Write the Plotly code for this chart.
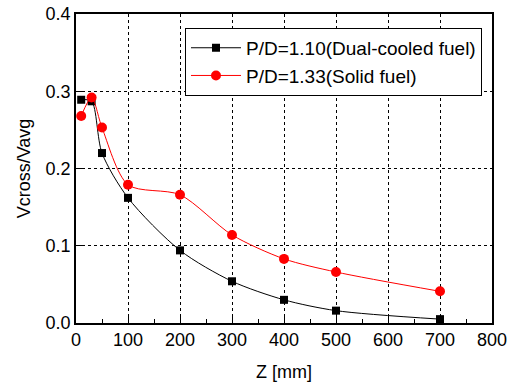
import plotly.graph_objects as go

z = [10, 30, 50, 100, 200, 300, 400, 500, 700]
dual_cooled = [0.289, 0.287, 0.220, 0.162, 0.094, 0.054, 0.030, 0.016, 0.005]
solid = [0.268, 0.292, 0.253, 0.179, 0.166, 0.114, 0.083, 0.066, 0.041]

names = ["P/D=1.10(Dual-cooled fuel)", "P/D=1.33(Solid fuel)"]

fig = go.Figure()
fig.add_trace(go.Scatter(
    x=z, y=dual_cooled, name=names[0], mode="lines+markers",
    line=dict(color="black", width=1, shape="spline", smoothing=0.8),
    marker=dict(symbol="square", size=8, color="black"),
))
fig.add_trace(go.Scatter(
    x=z, y=solid, name=names[1], mode="lines+markers",
    line=dict(color="red", width=1, shape="spline", smoothing=0.8),
    marker=dict(symbol="circle", size=10, color="red"),
))

font = "Liberation Sans, Arial, sans-serif"
axis_common = dict(
    showline=True, linecolor="black", linewidth=1.5, mirror=True,
    showgrid=True, gridcolor="black", griddash="dot", gridwidth=1,
    ticks="inside", ticklen=6, tickcolor="black",
    tickfont=dict(family=font, size=18, color="black"),
    zeroline=False, automargin=False,
)
fig.update_xaxes(
    range=[0, 800], dtick=100, tick0=0,
    title=dict(text="Z [mm]", font=dict(family=font, size=18, color="black"), standoff=16),
    minor=dict(dtick=50, ticks="inside", ticklen=4, tickcolor="black", showgrid=False),
    **axis_common,
)
fig.update_yaxes(
    range=[0, 0.4], dtick=0.1, tick0=0, tickformat=".1f",
    title=dict(text="Vcross/Vavg", font=dict(family=font, size=18, color="black"), standoff=10),
    **axis_common,
)
fig.update_layout(
    width=513, height=385,
    margin=dict(l=76, r=21, t=14, b=62),
    paper_bgcolor="white", plot_bgcolor="white",
    font=dict(family=font, color="black"),
    legend=dict(
        x=0.262, y=0.955, xanchor="left", yanchor="top",
        bgcolor="white", bordercolor="black", borderwidth=1,
        font=dict(family=font, size=19, color="black"),
        tracegroupgap=0, itemwidth=50,
    ),
    showlegend=True,
)
fig.write_html(
    "out.html",
    config={"displayModeBar": False},
    post_script="document.body.style.margin='0';document.body.style.overflow='hidden';",
)
